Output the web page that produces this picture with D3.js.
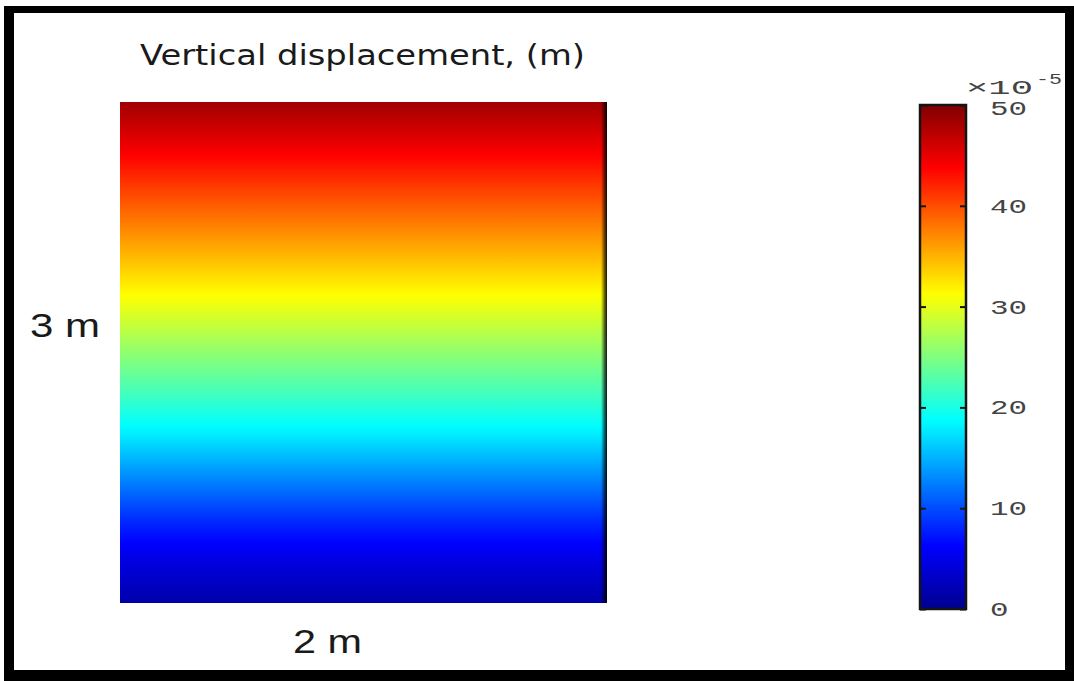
<!DOCTYPE html>
<html>
<head>
<meta charset="utf-8">
<script src="https://cdn.jsdelivr.net/npm/d3@7"></script>
<style>
  html, body { margin: 0; padding: 0; background: #fff; }
  svg { display: block; }
</style>
</head>
<body>
<svg id="chart" width="1074" height="681"></svg>
<script>
// Height above the base of the block (m) and vertical displacement (×10^-5 m)
const heights = [0, 0.25, 0.5, 0.75, 1.0, 1.25, 1.5, 1.75, 2.0, 2.25, 2.5, 2.75, 3.0];
const displacement = [1.5, 4.6, 8.4, 13.0, 17.7, 21.9, 25.8, 29.8, 33.6, 37.3, 41.0, 44.8, 48.5];

// Colour bar range and tick labels
const colorDomain = [0, 50];
const tickValues = [0, 10, 20, 30, 40, 50];
const tickLabels = ["0", "10", "20", "30", "40", "50"];

const title = "Vertical displacement, (m)";
const heightLabel = "3 m";
const widthLabel = "2 m";

// Jet colormap anchors
const jetStops = [0, 0.125, 0.375, 0.625, 0.875, 1];
const jetColors = ["#00008f", "#0000ff", "#00ffff", "#ffff00", "#ff0000", "#800000"];

const svg = d3.select("#chart");

// Frame
svg.append("rect").attr("x", 4).attr("y", 6).attr("width", 1070).attr("height", 675).attr("fill", "#000");
svg.append("rect").attr("x", 14).attr("y", 13).attr("width", 1051).attr("height", 657).attr("fill", "#fff");

const jet = d3.scaleLinear()
  .domain(jetStops.map(s => colorDomain[0] + s * (colorDomain[1] - colorDomain[0])))
  .range(jetColors)
  .interpolate(d3.interpolateRgb)
  .clamp(true);

// Field geometry
const field = { x0: 120, x1: 607, y0: 102, y1: 603 };
const yField = d3.scaleLinear().domain([0, 3]).range([field.y1, field.y0]);
const profile = d3.scaleLinear().domain(heights).range(displacement);

const defs = svg.append("defs");

// Vertical gradient for the displacement field
const fieldGrad = defs.append("linearGradient")
  .attr("id", "fieldGrad").attr("x1", 0).attr("y1", 0).attr("x2", 0).attr("y2", 1);
const nStops = 120;
d3.range(nStops + 1).forEach(i => {
  const t = i / nStops;
  const h = yField.invert(field.y0 + t * (field.y1 - field.y0));
  fieldGrad.append("stop").attr("offset", t).attr("stop-color", jet(profile(h)));
});

svg.append("rect")
  .attr("x", field.x0).attr("y", yField(3))
  .attr("width", field.x1 - field.x0).attr("height", yField(0) - yField(3))
  .attr("fill", "url(#fieldGrad)");

// Dark shading along the right edge of the field
const edgeGrad = defs.append("linearGradient")
  .attr("id", "edgeGrad").attr("x1", 0).attr("y1", 0).attr("x2", 1).attr("y2", 0);
edgeGrad.append("stop").attr("offset", 0).attr("stop-color", "#000").attr("stop-opacity", 0);
edgeGrad.append("stop").attr("offset", 0.6).attr("stop-color", "#000").attr("stop-opacity", 0.6);
edgeGrad.append("stop").attr("offset", 1).attr("stop-color", "#000").attr("stop-opacity", 0.9);
svg.append("rect")
  .attr("x", field.x1 - 6).attr("y", field.y0)
  .attr("width", 6).attr("height", field.y1 - field.y0)
  .attr("fill", "url(#edgeGrad)");

// Title and dimension labels
svg.append("text")
  .attr("x", 140).attr("y", 65)
  .attr("textLength", 445).attr("lengthAdjust", "spacingAndGlyphs")
  .attr("font-family", "DejaVu Sans, sans-serif").attr("font-size", 28)
  .attr("fill", "#1a1a1a")
  .text(title);

svg.append("text")
  .attr("x", 30).attr("y", 337)
  .attr("textLength", 70).attr("lengthAdjust", "spacingAndGlyphs")
  .attr("font-family", "Liberation Sans, Arial, sans-serif").attr("font-size", 33)
  .attr("fill", "#1a1a1a")
  .text(heightLabel);

svg.append("text")
  .attr("x", 293).attr("y", 653)
  .attr("textLength", 69).attr("lengthAdjust", "spacingAndGlyphs")
  .attr("font-family", "Liberation Sans, Arial, sans-serif").attr("font-size", 33)
  .attr("fill", "#1a1a1a")
  .text(widthLabel);

// Colour bar
const cb = { x0: 920, x1: 966, y0: 105, y1: 609 };
const yCb = d3.scaleLinear().domain(colorDomain).range([cb.y1, cb.y0]);

const cbGrad = defs.append("linearGradient")
  .attr("id", "cbGrad").attr("x1", 0).attr("y1", 0).attr("x2", 0).attr("y2", 1);
d3.range(nStops + 1).forEach(i => {
  const t = i / nStops;
  const v = yCb.invert(cb.y0 + t * (cb.y1 - cb.y0));
  cbGrad.append("stop").attr("offset", t).attr("stop-color", jet(v));
});

svg.append("rect")
  .attr("x", cb.x0).attr("y", cb.y0)
  .attr("width", cb.x1 - cb.x0).attr("height", cb.y1 - cb.y0)
  .attr("fill", "url(#cbGrad)")
  .attr("stroke", "#141414").attr("stroke-width", 2.5);

// Inward ticks on both sides of the bar
const axisL = d3.axisRight(yCb).tickValues(tickValues).tickSize(6).tickFormat("");
const axisR = d3.axisLeft(yCb).tickValues(tickValues).tickSize(6).tickFormat("");
[[axisL, cb.x0], [axisR, cb.x1]].forEach(([ax, x]) => {
  const g = svg.append("g").attr("transform", `translate(${x},0)`).call(ax);
  g.select(".domain").remove();
  g.selectAll(".tick line").attr("stroke", "#141414").attr("stroke-width", 2);
});

// Tick labels
svg.append("g").selectAll("text")
  .data(tickValues)
  .join("text")
  .attr("x", 990)
  .attr("y", d => yCb(d) + (d === colorDomain[1] ? 10 : 7))
  .attr("textLength", (d, i) => tickLabels[i].length * 18.5)
  .attr("lengthAdjust", "spacingAndGlyphs")
  .attr("font-family", "Liberation Mono, DejaVu Sans Mono, monospace")
  .attr("font-size", 20)
  .attr("fill", "#444")
  .text((d, i) => tickLabels[i]);

// Exponent label
const expo = svg.append("text")
  .attr("x", 966).attr("y", 94)
  .attr("font-family", "Liberation Mono, DejaVu Sans Mono, monospace")
  .attr("fill", "#444");
expo.append("tspan").attr("font-size", 20)
  .attr("textLength", 67).attr("lengthAdjust", "spacingAndGlyphs").text("×10");
expo.append("tspan").attr("x", 1036).attr("dy", -10).attr("font-size", 15)
  .attr("textLength", 26).attr("lengthAdjust", "spacingAndGlyphs").text("-5");
</script>
</body>
</html>
